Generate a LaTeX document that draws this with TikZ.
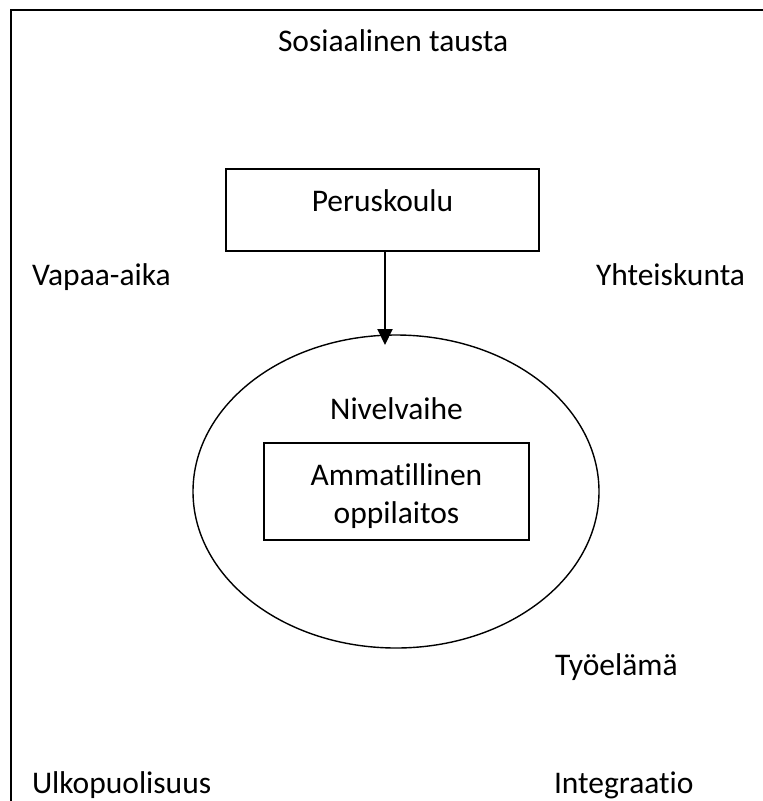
\documentclass[tikz,border=0pt]{standalone}
\usepackage{fontspec}
\setmainfont{Carlito}[Ligatures=NoCommon]
\usetikzlibrary{shapes.geometric,arrows.meta}
\begin{document}
\begin{tikzpicture}[x=1pt,y=-1pt,
  every node/.style={font=\fontsize{31.5}{38}\selectfont, inner sep=0pt, outer sep=0pt},
  lbl/.style={anchor=base west},
  clbl/.style={anchor=base},
  boxnode/.style={draw, line width=1.7pt, rectangle},
  ringnode/.style={draw, line width=1.4pt, ellipse},
  framel/.style={line width=2.2pt},
  arrowline/.style={line width=2pt, -{Triangle[width=15pt,length=16pt]}}]
\useasboundingbox (0,0) rectangle (763,801);
\clip (0,0) rectangle (763,801);
% frame (top and left edges)
\coordinate (ftl) at (11,10);
\coordinate (ftr) at (770,10);
\coordinate (fbl) at (11,810);
\draw[framel] (ftr) -- (ftl) -- (fbl);
% outer labels
\node[lbl] (sos) at (278,51) {Sosiaalinen tausta};
\node[lbl] (vap) at (32,285) {Vapaa-aika};
\node[lbl] (yht) at (596,285) {Yhteiskunta};
\node[lbl] (tyo) at (555,675) {Työelämä};
\node[lbl] (ulk) at (32,793) {Ulkopuolisuus};
\node[lbl] (int) at (554,793) {Integraatio};
% Peruskoulu box
\node[boxnode, minimum width=313pt, minimum height=82pt] (pk) at (382.5,210) {};
\node[clbl] (pkt) at (382.5,211) {Peruskoulu};
% ellipse
\node[ringnode, minimum width=406pt, minimum height=313pt] (niv) at (396,491.5) {};
\node[clbl] (nivt) at (396.5,419) {Nivelvaihe};
% inner box
\node[boxnode, minimum width=265pt, minimum height=97pt] (amm) at (396.5,491.5) {};
\node[clbl] (amm1) at (396.5,485) {Ammatillinen};
\node[clbl] (amm2) at (396.5,523) {oppilaitos};
% arrow
\coordinate (tip) at (385,345);
\draw[arrowline] (pk.south -| tip) -- (tip);
\end{tikzpicture}
\end{document}
